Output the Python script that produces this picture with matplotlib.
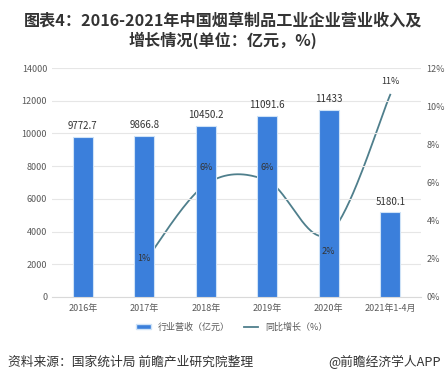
import numpy as np
import matplotlib
matplotlib.use("Agg")
import matplotlib.pyplot as plt
from matplotlib.patches import Patch
from matplotlib.lines import Line2D

plt.rcParams['font.family'] = ['Noto Sans CJK SC', 'DejaVu Sans']

categories = ["2016年", "2017年", "2018年", "2019年", "2020年", "2021年1-4月"]
revenue = [9772.7, 9866.8, 10450.2, 11091.6, 11433, 5180.1]
revenue_labels = ["9772.7", "9866.8", "10450.2", "11091.6", "11433", "5180.1"]
growth_idx = [1, 2, 3, 4, 5]
growth = [1.8, 5.9, 6.1, 3.3, 10.6]
growth_labels = ["1%", "6%", "6%", "2%", "11%"]
left_ticks = [0, 2000, 4000, 6000, 8000, 10000, 12000, 14000]
right_ticks = [0, 2, 4, 6, 8, 10, 12]

W, H = 447, 385
fig = plt.figure(figsize=(W / 100, H / 100), dpi=100)
ax = fig.add_axes([52 / W, 1 - 297 / H, (421 - 52) / W, (297 - 68) / H])
ax2 = ax.twinx()
ax.set_zorder(2)
ax.patch.set_visible(False)

x = np.arange(len(categories))
bar_color = "#3b7fdb"
ax.bar(x, revenue, width=0.32, color=bar_color, edgecolor="#cfe3f7", linewidth=0.8, zorder=3)
for xi, v, lab in zip(x, revenue, revenue_labels):
    ax.text(xi, v + 350, lab, ha="center", va="bottom", fontsize=7, color="#333333")

ax.set_ylim(0, 14000)
ax.set_yticks(left_ticks)
ax.set_yticklabels([str(t) for t in left_ticks])
ax.set_xlim(-0.5, len(categories) - 0.5)
ax.set_xticks(x)
ax.set_xticklabels(categories)
ax.grid(axis="y", color="#e6e6e6", linewidth=0.8, zorder=0)
ax.set_axisbelow(True)
for s in ax.spines.values():
    s.set_visible(False)
ax.spines["bottom"].set_visible(True)
ax.spines["bottom"].set_color("#d9d9d9")
ax.tick_params(axis="both", length=0, labelsize=6.5, labelcolor="#595959")
ax.tick_params(axis="x", pad=5)

# smooth line (cardinal spline through points)
px = np.array(growth_idx, dtype=float)
py = np.array(growth, dtype=float)
xs, ys = [], []
n = len(px)
for i in range(n - 1):
    p0 = (px[i - 1], py[i - 1]) if i > 0 else (px[i], py[i])
    p1 = (px[i], py[i])
    p2 = (px[i + 1], py[i + 1])
    p3 = (px[i + 2], py[i + 2]) if i + 2 < n else (px[i + 1], py[i + 1])
    t = np.linspace(0, 1, 40)
    s = 0.5
    m1x, m1y = s * (p2[0] - p0[0]), s * (p2[1] - p0[1])
    m2x, m2y = s * (p3[0] - p1[0]), s * (p3[1] - p1[1])
    h00 = 2 * t**3 - 3 * t**2 + 1
    h10 = t**3 - 2 * t**2 + t
    h01 = -2 * t**3 + 3 * t**2
    h11 = t**3 - t**2
    xs.extend(h00 * p1[0] + h10 * m1x + h01 * p2[0] + h11 * m2x)
    ys.extend(h00 * p1[1] + h10 * m1y + h01 * p2[1] + h11 * m2y)
line_color = "#4f7f8c"
ax2.plot(xs, ys, color=line_color, linewidth=1.3, zorder=1)
ax2.set_ylim(0, 12)
ax2.set_yticks(right_ticks)
ax2.set_yticklabels([f"{t}%" for t in right_ticks])
for s in ax2.spines.values():
    s.set_visible(False)
ax2.tick_params(axis="y", length=0, labelsize=6.5, labelcolor="#595959", pad=4)

label_pos = [2.0, 6.8, 6.8, 2.4, 11.3]
for xi, yv, lab in zip(growth_idx, label_pos, growth_labels):
    ax.text(xi, yv / 12 * 14000, lab, ha="center", va="center", fontsize=6.5, color="#333333", zorder=5)

# legend
handles = [Patch(facecolor=bar_color, edgecolor="#cfe3f7"),
           Line2D([0], [0], color=line_color, linewidth=1.3)]
fig.legend(handles, ["行业营收（亿元）", "同比增长（%）"], loc="center",
           bbox_to_anchor=(232 / W, 1 - 327 / H), ncol=2, frameon=False,
           fontsize=6.5, handlelength=1.6, handleheight=0.6, columnspacing=1.5,
           labelcolor="#595959")

fig.text(223 / W, 1 - 20 / H, "图表4：2016-2021年中国烟草制品工业企业营业收入及",
         ha="center", va="center", fontsize=11.6, fontweight="bold", color="#333333")
fig.text(223 / W, 1 - 40 / H, "增长情况(单位：亿元，%)",
         ha="center", va="center", fontsize=11.6, fontweight="bold", color="#333333")
fig.text(8 / W, 1 - 362 / H, "资料来源：国家统计局 前瞻产业研究院整理",
         ha="left", va="center", fontsize=9.2, color="#333333")
fig.text(441 / W, 1 - 362 / H, "@前瞻经济学人APP",
         ha="right", va="center", fontsize=9.2, color="#333333")

fig.savefig("out.png", dpi=100)
